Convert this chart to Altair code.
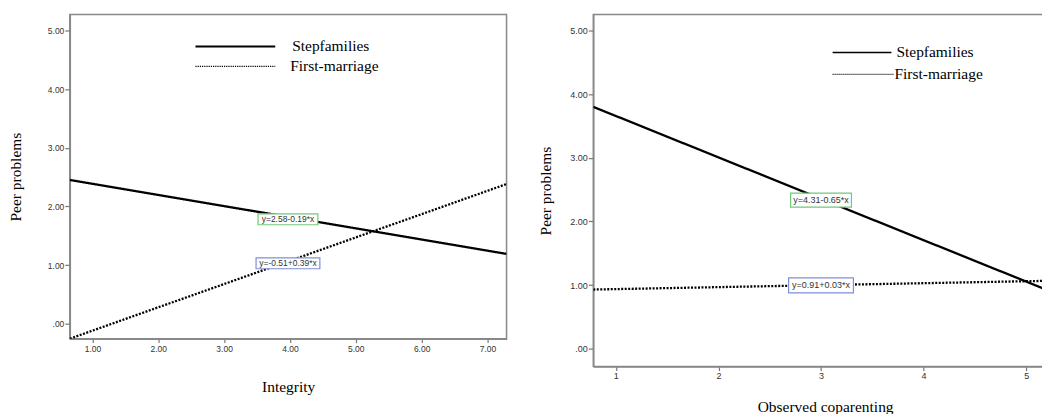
import altair as alt
import pandas as pd

series = ["Stepfamilies", "First-marriage"]
y_ticks = [0, 1, 2, 3, 4, 5]

# Left panel (Integrity)
left_x = [0.657, 7.29]
left_step_y = [2.45, 1.19]
left_first_y = [-0.255, 2.38]
left_x_domain = [0.657, 7.29]
left_y_domain = [-0.255, 5.27]
left_x_ticks = [1, 2, 3, 4, 5, 6, 7]
left_eq_text = ["y=2.58-0.19*x", "y=-0.51+0.39*x"]
left_eq_x = [3.97, 3.97]
left_eq_y = [1.78, 1.03]

# Right panel (Observed coparenting)
right_x = [0.78, 5.30]
right_step_y = [3.80, 0.86]
right_first_y = [0.93, 1.07]
right_x_domain = [0.78, 5.30]
right_y_domain = [-0.28, 5.25]
right_x_ticks = [1, 2, 3, 4, 5]
right_eq_text = ["y=4.31-0.65*x", "y=0.91+0.03*x"]
right_eq_x = [3.0, 3.0]
right_eq_y = [2.335, 0.995]

box_colors = ["#72c978", "#7f8fd6"]


def box_path(w, h):
    r = h / w
    return f"M-1,-{r} L1,-{r} L1,{r} L-1,{r} Z"


def legend_layers(cfg):
    layers = []
    for i, name in enumerate(series):
        row = cfg["rows"][i]
        d = pd.DataFrame({"series": [name]})
        layers.append(alt.Chart(d).mark_rule(
            color="black", strokeWidth=row["w"], strokeDash=row["dash"], strokeCap="butt"
        ).encode(x=alt.value(row["x1"]), x2=alt.value(row["x2"]), y=alt.value(row["y"])))
        layers.append(alt.Chart(d).mark_text(
            font="Liberation Serif", fontSize=15.5, color="black", align="left",
            baseline="middle"
        ).encode(x=alt.value(row["tx"]), y=alt.value(row["y"]), text="series:N"))
    return layers


def panel(xs, step_y, first_y, xdom, ydom, xticks, xfmt, xtitle,
          eq_text, eq_x, eq_y, box_sizes, width, height, cfg):
    line_df = pd.DataFrame({
        "x": xs + xs,
        "y": step_y + first_y,
        "series": [series[0]] * len(xs) + [series[1]] * len(xs),
    })
    xscale = alt.Scale(domain=xdom, nice=False, zero=False)
    yscale = alt.Scale(domain=ydom, nice=False, zero=False)
    xaxis = alt.Axis(values=xticks, format=xfmt, title=xtitle, grid=False,
                     tickSize=4, labelPadding=cfg["xlabpad"],
                     labelFontSize=cfg["labsize"],
                     minExtent=15, maxExtent=15, titlePadding=cfg["xtitlepad"])
    yaxis = alt.Axis(values=y_ticks,
                     labelExpr="datum.value == 0 ? '.00' : format(datum.value, '.2f')",
                     title="Peer problems", grid=False, tickSize=5, labelPadding=1,
                     labelFontSize=cfg["labsize"],
                     minExtent=30, maxExtent=30, titlePadding=cfg["ytitlepad"])
    lines = alt.Chart(line_df).mark_line(color="black", strokeCap="butt",
                                         strokeWidth=2.3, clip=True).encode(
        x=alt.X("x:Q", scale=xscale, axis=xaxis),
        y=alt.Y("y:Q", scale=yscale, axis=yaxis),
        strokeDash=alt.StrokeDash(
            "series:N",
            scale=alt.Scale(domain=series, range=[[1, 0], [2, 1.5]]),
            legend=None,
        ),
    )
    eq_df = pd.DataFrame({
        "x": eq_x, "y": eq_y, "text": eq_text, "color": box_colors,
        "shape": [box_path(w, h) for (w, h) in box_sizes],
        "size": [w * w for (w, h) in box_sizes],
    })
    boxes = alt.Chart(eq_df).mark_point(filled=True, fill="white", opacity=1,
                                        strokeWidth=1.2, strokeOpacity=1).encode(
        x=alt.X("x:Q", scale=xscale),
        y=alt.Y("y:Q", scale=yscale),
        shape=alt.Shape("shape:N", scale=None),
        size=alt.Size("size:Q", scale=None),
        stroke=alt.Stroke("color:N", scale=None),
    )
    texts = alt.Chart(eq_df).mark_text(font="Liberation Sans", fontSize=cfg["eqsize"],
                                       color="#333").encode(
        x=alt.X("x:Q", scale=xscale),
        y=alt.Y("y:Q", scale=yscale),
        text="text:N",
    )
    return alt.layer(lines, boxes, texts, *legend_layers(cfg)).properties(
        width=width, height=height)


left = panel(left_x, left_step_y, left_first_y, left_x_domain, left_y_domain,
             left_x_ticks, ".2f", "Integrity", left_eq_text, left_eq_x, left_eq_y,
             [(60, 11), (64, 11)], 438, 325,
             dict(xlabpad=2, xtitlepad=26, ytitlepad=16, labsize=8.5, eqsize=8.5,
                  rows=[dict(x1=126, x2=206, y=32, tx=223, w=2.2, dash=[1, 0]),
                        dict(x1=126, x2=206, y=52, tx=221, w=1.4, dash=[1.2, 1])]))
right = panel(right_x, right_step_y, right_first_y, right_x_domain, right_y_domain,
              right_x_ticks, "d", "Observed coparenting", right_eq_text, right_eq_x,
              right_eq_y, [(61, 14), (65, 15)], 465, 353,
              dict(xlabpad=1, xtitlepad=18, ytitlepad=10, labsize=9, eqsize=9,
                   rows=[dict(x1=240, x2=299, y=38, tx=304, w=1.6, dash=[1, 0]),
                         dict(x1=240, x2=302, y=60, tx=302, w=1.1, dash=[1, 1])]))

chart = alt.hconcat(left, right, spacing=30).resolve_scale(
    x="independent", y="independent", strokeDash="independent"
).properties(
    padding={"left": 0, "top": 5, "right": -16, "bottom": 0},
    background="white",
).configure_view(
    stroke="#888", strokeWidth=1.5
).configure_axis(
    domainColor="#888", domainWidth=1.5, tickColor="#777", tickWidth=1.2,
    labelColor="#333", labelFont="Liberation Sans",
    titleFont="Liberation Serif", titleFontWeight="normal", titleColor="black",
    titleFontSize=15.5,
)

chart.save("out.html", embed_options={"renderer": "svg", "actions": False})
